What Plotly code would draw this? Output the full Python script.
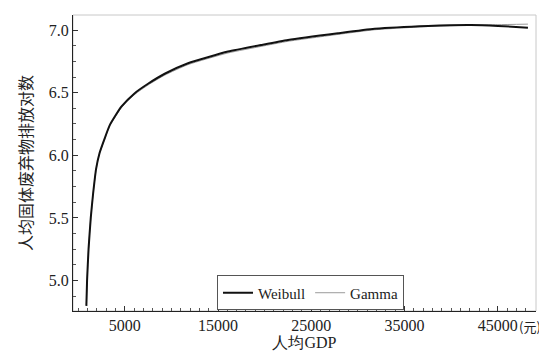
import plotly.graph_objects as go

gdp = [884, 958, 1119, 1355, 1602, 1923, 2299, 2781, 3392, 4636, 6072, 7498, 9288, 11786,
       16074, 19611, 22505, 27866, 31800, 37514, 42123, 45020, 48236]
weibull = [4.798, 4.998, 5.253, 5.500, 5.691, 5.890, 6.018, 6.121, 6.241, 6.388, 6.496, 6.571,
           6.651, 6.735, 6.828, 6.880, 6.920, 6.974, 7.010, 7.033, 7.040, 7.033, 7.019]
gamma = [4.798, 4.998, 5.253, 5.500, 5.691, 5.888, 6.014, 6.116, 6.234, 6.379, 6.486, 6.561,
         6.640, 6.724, 6.817, 6.869, 6.910, 6.965, 7.002, 7.028, 7.039, 7.043, 7.047]

x_ticks = [5000, 15000, 25000, 35000, 45000]
y_ticks = [5.0, 5.5, 6.0, 6.5, 7.0]

SERIF = "Liberation Serif"
CJK = "Noto Sans CJK SC"

fig = go.Figure()
fig.add_trace(go.Scatter(x=gdp, y=gamma, mode="lines", name="Gamma",
                         line=dict(color="#9a9a9a", width=1, shape="spline", smoothing=0.5)))
fig.add_trace(go.Scatter(x=gdp, y=weibull, mode="lines", name="Weibull",
                         line=dict(color="#111111", width=2, shape="spline", smoothing=0.5)))

fig.update_layout(
    width=547, height=351,
    margin=dict(l=65, r=19, t=7, b=48),
    paper_bgcolor="white", plot_bgcolor="white",
    font=dict(family=SERIF, size=16, color="#222222"),
    showlegend=True,
    legend=dict(orientation="h", x=0.311, y=0.12, xanchor="left", yanchor="top",
                traceorder="reversed",
                bordercolor="#555555", borderwidth=1, bgcolor="white",
                font=dict(family=SERIF, size=15, color="#222222"),
                itemwidth=30, tracegroupgap=0),
    shapes=[dict(type="rect", xref="paper", yref="paper", x0=0, x1=1, y0=0, y1=1,
                 line=dict(color="#c8c8c8", width=1), layer="below")],
    annotations=[dict(text="(元)", xref="x", yref="paper", x=45000, y=0, xshift=19, yshift=-4,
                      xanchor="left", yanchor="top", showarrow=False,
                      font=dict(family=CJK, size=13, color="#222222"))],
)

fig.update_xaxes(
    range=[-550, 49100], tickvals=x_ticks, ticktext=[str(v) for v in x_ticks],
    showgrid=False, zeroline=False, showline=True, linecolor="#222222", linewidth=1,
    ticks="inside", ticklen=5, tickcolor="#333333",
    tickfont=dict(family=SERIF, size=16),
    minor=dict(dtick=1000, tick0=0, ticks="inside", ticklen=3, tickcolor="#555555", showgrid=False),
    title=dict(text="人均GDP", standoff=2, font=dict(family=SERIF, size=16, color="#222222")),
)
fig.update_yaxes(
    range=[4.757, 7.12], tickvals=y_ticks, ticktext=["%.1f" % v for v in y_ticks],
    showgrid=False, zeroline=False, showline=True, linecolor="#222222", linewidth=1,
    ticks="inside", ticklen=5, tickcolor="#333333",
    tickfont=dict(family=SERIF, size=16),
    minor=dict(dtick=0.125, tick0=5.0, ticks="inside", ticklen=3, tickcolor="#555555", showgrid=False),
    title=dict(text="人均固体废弃物排放对数", standoff=12,
               font=dict(family=CJK, size=16, color="#222222")),
)

fig.write_html("out.html")
